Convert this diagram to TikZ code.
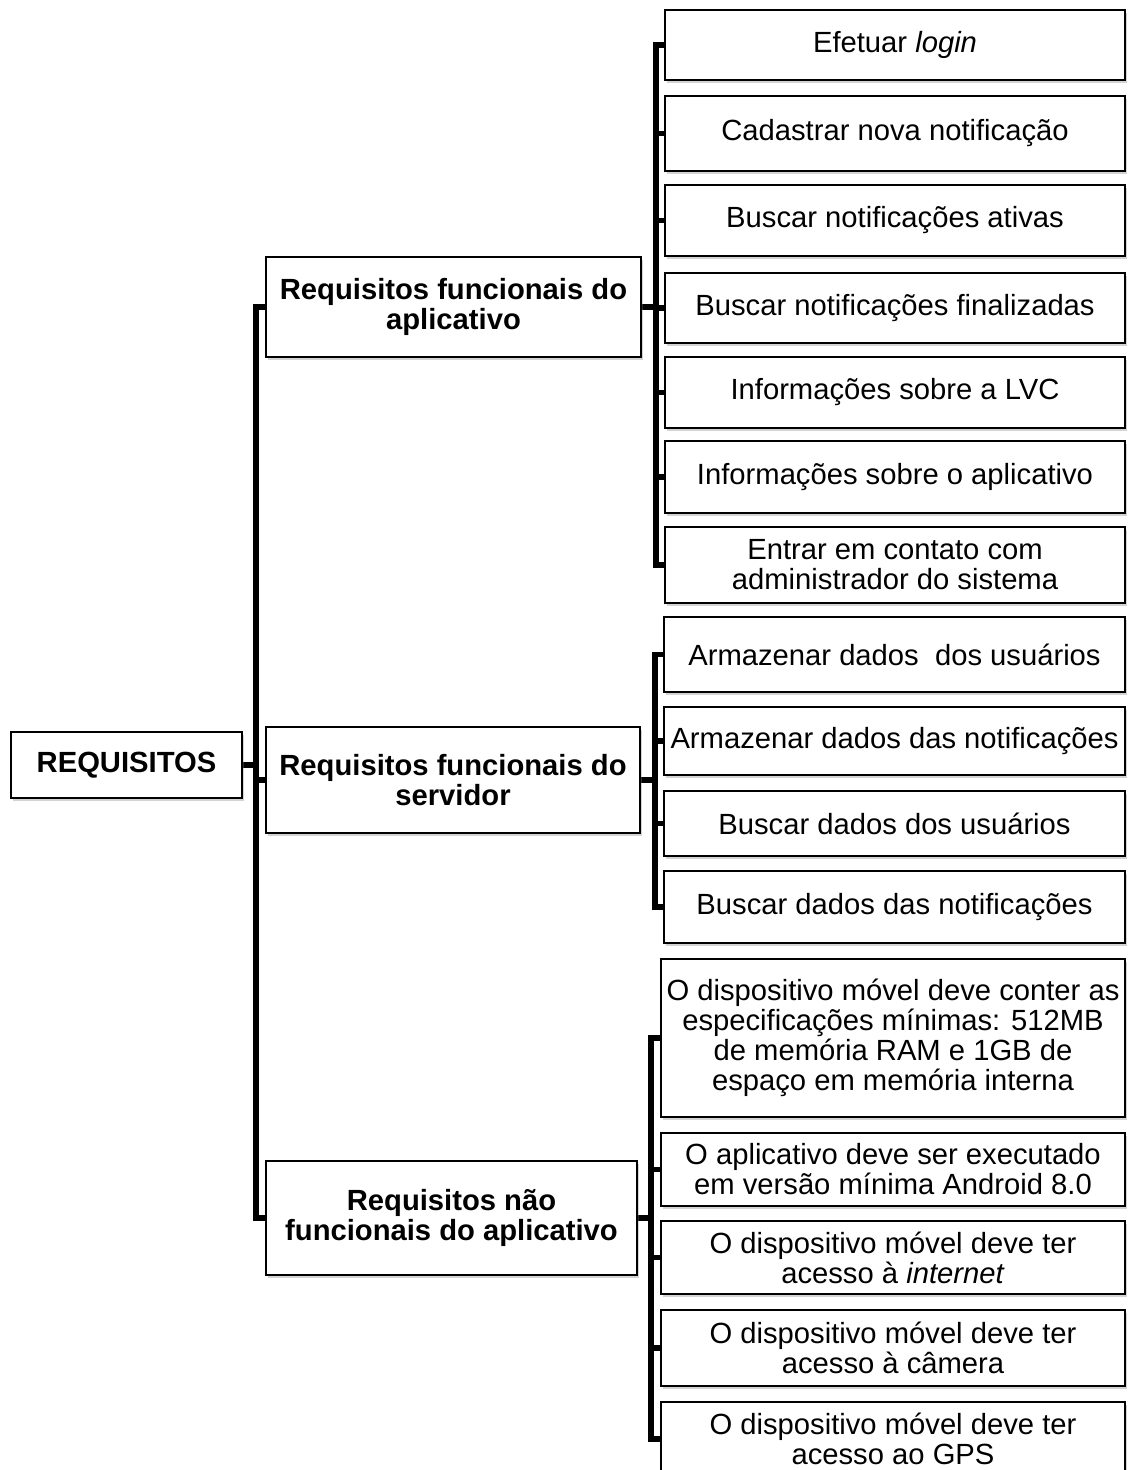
\documentclass[tikz,border=0pt]{standalone}
\usepackage{fontspec}
\setmainfont{Liberation Sans}
\usepackage{tikz}
\usetikzlibrary{positioning,calc,shadows,backgrounds}

\begin{document}
\begin{tikzpicture}[x=0.5pt, y=-0.5pt,
    box/.style={draw, line width=0.9pt, fill=white, align=center, inner sep=0pt,
        drop shadow={opacity=0.35, fill=gray, shadow xshift=1.2pt, shadow yshift=-1.5pt},
        font=\fontsize{14.6pt}{15pt}\selectfont},
    headbox/.style={box, font=\fontsize{14.6pt}{15pt}\selectfont\bfseries},
    leafA/.style={box, minimum width=230pt},
    leafB/.style={box, minimum width=230.5pt},
    leafC/.style={box, minimum width=232pt},
    link/.style={line width=2.6pt, line join=miter, line cap=rect}]
    \useasboundingbox (0,0) rectangle (1132,1470);

    % root and the three groups
    \node[headbox, minimum width=115.5pt, minimum height=33pt] (root) at (126.5,765) {REQUISITOS};
    \node[headbox, minimum width=187.5pt, minimum height=50pt] (funcApp) at (453.5,307) {Requisitos funcionais do\\aplicativo};
    \node[headbox, minimum width=187pt, minimum height=53pt] (funcSrv) at (453,780) {Requisitos funcionais do\\servidor};
    \node[headbox, minimum width=185.5pt, minimum height=57pt] (naoFunc) at (451.5,1218) {Requisitos não\\funcionais do aplicativo};

    % functional requirements of the app
    \node[leafA, minimum height=35pt] (app1) at (895,45) {Efetuar \textit{login}};
    \node[leafA, minimum height=37.5pt] (app2) at (895,133.5) {Cadastrar nova notificação};
    \node[leafA, minimum height=35.5pt] (app3) at (895,220.5) {Buscar notificações ativas};
    \node[leafA, minimum height=35pt] (app4) at (895,308) {Buscar notificações finalizadas};
    \node[leafA, minimum height=35.5pt] (app5) at (895,392.5) {Informações sobre a LVC};
    \node[leafA, minimum height=36pt] (app6) at (895,477) {Informações sobre o aplicativo};
    \node[leafA, minimum height=38pt] (app7) at (895,565) {Entrar em contato com\\administrador do sistema};

    % functional requirements of the server
    \node[leafB, minimum height=37.5pt] (srv1) at (894.5,654.5) {Armazenar dados~ dos usuários};
    \node[leafB, minimum height=34pt] (srv2) at (894.5,741) {Armazenar dados das notificações};
    \node[leafB, minimum height=32.5pt] (srv3) at (894.5,823.5) {Buscar dados dos usuários};
    \node[leafB, minimum height=36pt] (srv4) at (894.5,907) {Buscar dados das notificações};

    % non functional requirements
    \node[leafC, minimum height=79pt] (nf1) at (893,1038) {O dispositivo móvel deve conter as\\especificações mínimas: 512MB\\de memória RAM e 1GB de\\espaço em memória interna};
    \node[leafC, minimum height=36.5pt] (nf2) at (893,1169.5) {O aplicativo deve ser executado\\em versão mínima Android 8.0};
    \node[leafC, minimum height=36.5pt] (nf3) at (893,1257.5) {O dispositivo móvel deve ter\\acesso à \textit{internet}};
    \node[leafC, minimum height=38pt] (nf4) at (893,1348) {O dispositivo móvel deve ter\\acesso à câmera};
    \node[leafC, minimum height=37pt] (nf5) at (893,1439) {O dispositivo móvel deve ter\\acesso ao GPS};

    % brackets, behind the boxes
    \begin{scope}[on background layer]
    \foreach \n in {funcApp,funcSrv,naoFunc}
        \draw[link] (root.east) -- ++(13,0) |- (\n.west);
    \foreach \n in {app1,app2,app3,app4,app5,app6,app7}
        \draw[link] (funcApp.east) -- ++(14,0) |- (\n.west);
    \foreach \n in {srv1,srv2,srv3,srv4}
        \draw[link] (funcSrv.east) -- ++(14,0) |- (\n.west);
    \foreach \n in {nf1,nf2,nf3,nf4,nf5}
        \draw[link] (naoFunc.east) -- ++(13,0) |- (\n.west);
    \end{scope}
\end{tikzpicture}
\end{document}
